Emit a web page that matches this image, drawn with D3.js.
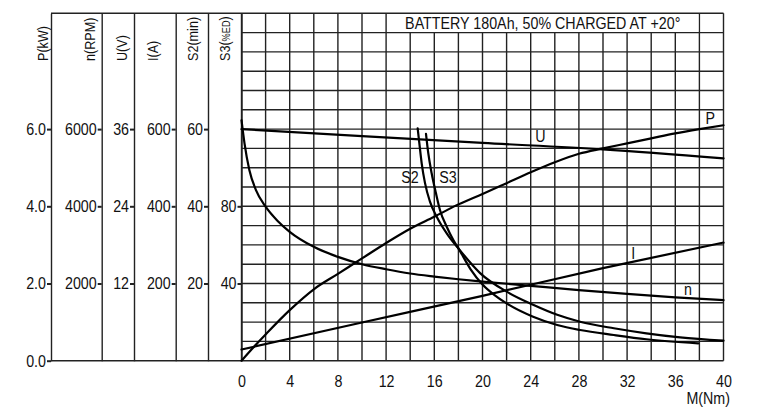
<!DOCTYPE html>
<html><head><meta charset="utf-8">
<script src="https://cdn.jsdelivr.net/npm/d3@7"></script>
<style>body{margin:0;background:#fff}svg{display:block}</style>
</head><body>
<svg id="chart" width="765" height="409"></svg>
<script>
// ---- data ----
const titleText = "BATTERY 180Ah, 50% CHARGED AT +20°";
const xAxisTitle = "M(Nm)";
const torqueTicks = [0,4,8,12,16,20,24,28,32,36,40];

const axisTitles = ["P(kW)","n(RPM)","U(V)","I(A)","S2(min)","S3(%ED)"];
const powerTicks = [0,2,4,6];
const speedTicks = [2000,4000,6000];
const voltageTicks = [12,24,36];
const currentTicks = [200,400,600];
const s2Ticks = [20,40,60];
const s3Ticks = [40,80];

const torqueP = [0,1,2,4,6,8,10,12,14,16,18,20,22,24,26,28,30,32,34,36,38,40];
const powerKW = [0,0.35,0.68,1.31,1.85,2.25,2.65,3.05,3.42,3.73,4.05,4.32,4.6,4.88,5.14,5.36,5.5,5.63,5.76,5.89,6.0,6.1];

const torqueN = [0,0.25,0.65,1.2,2,3,4,6,8,10,12,14,16,18,20,24,28,32,36,40];
const speedRPM = [6230,5630,4940,4420,3990,3620,3340,2950,2690,2500,2370,2260,2180,2110,2050,1940,1830,1730,1640,1570];

const torqueU = [0,10,20,30,40];
const voltageV = [36,34.9,33.85,32.85,31.45];

const torqueI = [0,10,20,30,40];
const currentA = [29,99,168,240,306];

const torqueS2 = [14.62,14.76,14.95,15.23,15.64,16.2,17.03,18.05,19.8,22,24.2,26.2,28.1,30.9,33.6,36.4,40];
const s2Minutes = [60.2,56.3,51.2,46.0,41.2,37.3,33.0,28.9,22.7,17.9,14.5,11.9,10.1,8.4,7.1,6.05,5.2];

const torqueS3 = [15.31,15.5,15.78,16.14,16.47,17.03,17.58,18.05,19,20,21,22,24.2,26.2,28.1,30.9,33.6,37.9];
const s3Percent = [117.5,107.5,97.1,86.7,78.1,69.4,62.5,57.7,47.5,39.5,34,29.7,22.8,18.5,15.9,13.3,11.1,9.0];

const curveNames = ["P","U","I","n","S2","S3"];

// ---- fonts: condensed look via horizontal scaling ----
const FONT = '"Liberation Sans", Arial, sans-serif';
const K = 0.84;           // horizontal squeeze
const fsTick = 17, fsHead = 15, fsTitle = 17;
function condense(sel){
  sel.each(function(){
    const t = d3.select(this);
    const x0 = +(t.attr("x") || 0);
    const tr = t.attr("transform") || "";
    t.attr("x", x0 / K).attr("transform", (tr + ` scale(${K},1)`).trim());
  });
}

// ---- layout ----
const svg = d3.select("#chart");
svg.append("rect").attr("width",765).attr("height",409).attr("fill","#fff");
const plotL = 241.5, plotR = 723.5, plotT = 13.3, plotB = 360.7;
const frameL = 51;
const INK = "#222";

const x = d3.scaleLinear().domain([0,40]).range([plotL, plotR]);
const yP = d3.scaleLinear().domain([0,9]).range([plotB, plotT]);
const yN = d3.scaleLinear().domain([0,9000]).range([plotB, plotT]);
const yU = d3.scaleLinear().domain([0,54]).range([plotB, plotT]);
const yI = d3.scaleLinear().domain([0,900]).range([plotB, plotT]);
const yS2 = d3.scaleLinear().domain([0,90]).range([plotB, plotT]);
const yS3 = d3.scaleLinear().domain([0,180]).range([plotB, plotT]);

// grid
const grid = svg.append("g").attr("stroke", INK).attr("stroke-width", 1.4);
d3.range(0, 40.001, 2).forEach(m => {
  const top = (m > 12 && m < 38) ? yP(8.5) : yP(9);
  grid.append("line").attr("x1", x(m)).attr("x2", x(m)).attr("y1", top).attr("y2", plotB);
});
d3.range(0, 9.001, 0.5).forEach(v => {
  const left = (v === 0 || v === 9) ? frameL : plotL;
  grid.append("line").attr("x1", left).attr("x2", plotR).attr("y1", yP(v)).attr("y2", yP(v));
});

// left axes
const axes = [
  {scale:yP, ticks:powerTicks, fmt:d3.format(".1f"), x:51, hx:43},
  {scale:yN, ticks:speedTicks, fmt:d3.format("d"), x:101.7, hx:90},
  {scale:yU, ticks:voltageTicks, fmt:d3.format("d"), x:134, hx:122},
  {scale:yI, ticks:currentTicks, fmt:d3.format("d"), x:175.7, hx:153},
  {scale:yS2, ticks:s2Ticks, fmt:d3.format("d"), x:208, hx:193},
  {scale:yS3, ticks:s3Ticks, fmt:d3.format("d"), x:plotL, hx:225}
];
axes.forEach((a, i) => {
  const g = svg.append("g").attr("transform", `translate(${a.x},0)`)
    .call(d3.axisLeft(a.scale).tickValues(a.ticks).tickFormat(a.fmt).tickSize(4).tickSizeOuter(0).tickPadding(1));
  g.select(".domain").attr("stroke", INK).attr("stroke-width", 1.4);
  g.selectAll(".tick line").attr("stroke", INK).attr("stroke-width", 2);
  g.selectAll(".tick text").attr("font-family", FONT).attr("font-size", fsTick).attr("fill", "#111").call(condense);
  const t = svg.append("text").attr("transform", `translate(${a.hx},61) rotate(-90)`)
    .attr("dy", "0.35em").attr("text-anchor", "start")
    .attr("font-family", FONT).attr("font-size", fsHead).attr("fill", "#111");
  const title = axisTitles[i];
  const m = title.match(/^(.*\()(%.*)(\))$/);
  if (m) {
    t.append("tspan").text(m[1]);
    t.append("tspan").attr("font-size", fsHead - 4).text(m[2]);
    t.append("tspan").text(m[3]);
  } else {
    t.text(title);
  }
  t.call(condense);
});

// bottom axis
const gx = svg.append("g").attr("transform", `translate(0,${plotB})`)
  .call(d3.axisBottom(x).tickValues(torqueTicks).tickSize(0).tickPadding(14));
gx.select(".domain").remove();
gx.selectAll(".tick text").attr("font-family", FONT).attr("font-size", fsTick).attr("fill", "#111").call(condense);
svg.append("text").attr("x", 730).attr("y", 404).attr("text-anchor", "end")
  .attr("font-family", FONT).attr("font-size", fsTick).attr("fill", "#111").text(xAxisTitle).call(condense);

// title in the top cell
svg.append("rect").attr("x", x(12)+1).attr("y", plotT+1).attr("width", x(38)-x(12)-2).attr("height", yP(8.5)-plotT-2).attr("fill","#fff");
svg.append("text").attr("x", (x(12)+x(38))/2).attr("y", (plotT + yP(8.5))/2)
  .attr("dy","0.36em").attr("text-anchor","middle")
  .attr("font-family", FONT).attr("font-size", fsTitle).attr("fill", "#111").text(titleText).call(condense);

// curves
const series = [
  {xs:torqueP, ys:powerKW, s:yP},
  {xs:torqueU, ys:voltageV, s:yU},
  {xs:torqueI, ys:currentA, s:yI},
  {xs:torqueN, ys:speedRPM, s:yN},
  {xs:torqueS2, ys:s2Minutes, s:yS2},
  {xs:torqueS3, ys:s3Percent, s:yS3}
];
const cg = svg.append("g").attr("fill","none").attr("stroke","#000").attr("stroke-width",2.2)
  .attr("stroke-linejoin","round").attr("stroke-linecap","round");
series.forEach(sr => {
  const pts = sr.xs.map((m, i) => [m, sr.ys[i]]);
  const line = d3.line().x(d => x(d[0])).y(d => sr.s(d[1])).curve(d3.curveMonotoneX);
  cg.append("path").attr("d", line(pts));
});

// curve labels (placed in data coordinates: torque, kW-equivalent)
const labelPos = [[38.9,6.29],[24.8,5.82],[32.5,2.80],[37.05,1.86],[13.98,4.76],[17.13,4.76]];
curveNames.forEach((nm, i) => {
  svg.append("text").attr("x", x(labelPos[i][0])).attr("y", yP(labelPos[i][1]))
    .attr("dy","0.36em").attr("text-anchor","middle")
    .attr("font-family", FONT).attr("font-size", fsTick).attr("fill","#111").text(nm).call(condense);
});
</script>
</body></html>
